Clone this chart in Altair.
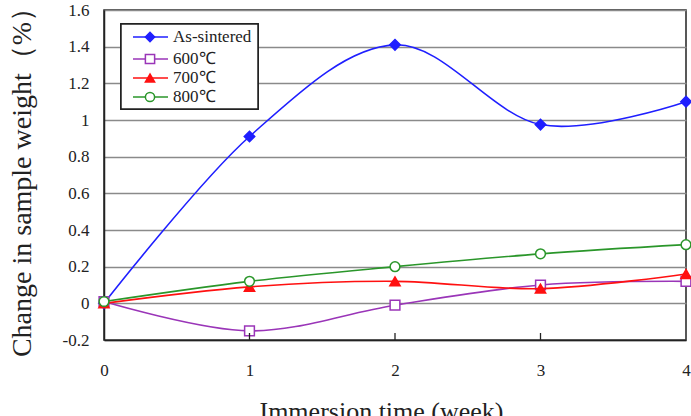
import altair as alt
import pandas as pd

# Immersion time (weeks) and weight change (%) for each sample condition
weeks = [0, 1, 2, 3, 4]
series_names = ["As-sintered", "600℃", "700℃", "800℃"]
as_sintered = [0.00, 0.91, 1.41, 0.975, 1.10]
t600 = [0.01, -0.15, -0.01, 0.10, 0.12]
t700 = [0.00, 0.09, 0.12, 0.08, 0.16]
t800 = [0.01, 0.12, 0.20, 0.27, 0.32]
y_ticks = [-0.2, 0, 0.2, 0.4, 0.6, 0.8, 1.0, 1.2, 1.4, 1.6]
x_ticks = [0, 1, 2, 3, 4]
inner_ticks = [1, 2, 3]

values = [as_sintered, t600, t700, t800]
colors = ["#1f1fff", "#9a35b8", "#ff1010", "#2a962a"]
shapes = ["diamond", "square", "triangle-up", "circle"]
filled = [True, False, True, False]
sizes = [110, 95, 105, 95]

FONT = "Liberation Serif"

rows = []
for name, vals in zip(series_names, values):
    for w, v in zip(weeks, vals):
        rows.append({"series": name, "week": w, "change": v})
df = pd.DataFrame(rows)

x_enc = alt.X(
    "week:Q",
    scale=alt.Scale(domain=[0, 4], nice=False),
    axis=alt.Axis(
        values=x_ticks, format="d", title="Immersion time (week)",
        grid=False, ticks=False, labelPadding=22, labelFontSize=17,
        labelOverlap=False, labelFlush=False,
        titleFontSize=26, titleFontWeight="normal", titleX=277, titleY=79,
        titleAlign="center", titleBaseline="alphabetic",
        domainColor="#222", domainWidth=1.5,
    ),
)
y_enc = alt.Y(
    "change:Q",
    scale=alt.Scale(domain=[-0.2, 1.6], nice=False, zero=False),
    axis=alt.Axis(
        values=y_ticks, title="Change in sample weight（%）",
        labelExpr="(datum.value < 0 ? '-' : '') + format(abs(datum.value), '.1~f')",
        grid=True, gridColor="#8a8a8a", gridWidth=1.6, ticks=False,
        labelPadding=15, labelFontSize=17, labelOverlap=False, labelFlush=False,
        titleFontSize=28, titleFontWeight="normal", titleAngle=270,
        titleX=-82, titleY=165, titleAlign="center", titleBaseline="middle",
        domainColor="#222", domainWidth=1.5,
    ),
)

layers = []

for name, col, shp, fil, sz in zip(series_names, colors, shapes, filled, sizes):
    sub = alt.Chart(df).transform_filter(alt.datum.series == name)
    layers.append(
        sub.mark_line(color=col, strokeWidth=1.6, interpolate="cardinal").encode(
            x=x_enc, y=y_enc
        )
    )
    layers.append(
        sub.mark_point(
            shape=shp, size=sz, filled=True, opacity=1,
            fill=col if fil else "white", stroke=col, strokeWidth=1.5,
        ).encode(x=x_enc, y=y_enc)
    )

# short tick marks pointing into the plot along the bottom axis
tick_df = pd.DataFrame({"week": inner_ticks})
ticks_layer = alt.Chart(tick_df).mark_rule(color="#222", strokeWidth=1.3).encode(
    x=x_enc, y=alt.value(330), y2=alt.value(323)
)

# legend box with line-and-marker samples
legend_df = pd.DataFrame({"series": series_names})
legend_layers = [
    alt.Chart(legend_df).mark_rect(
        fill="white", stroke="#222", strokeWidth=1.5
    ).encode(x=alt.value(17), x2=alt.value(154), y=alt.value(14), y2=alt.value(99))
]
legend_rows = [27, 49, 68, 87]
for name, col, shp, fil, ly in zip(series_names, colors, shapes, filled, legend_rows):
    entry = alt.Chart(legend_df).transform_filter(alt.datum.series == name)
    legend_layers.append(
        entry.mark_rule(color=col, strokeWidth=1.6).encode(
            x=alt.value(29), x2=alt.value(64), y=alt.value(ly)
        )
    )
    legend_layers.append(
        entry.mark_point(
            shape=shp, size=85, filled=True, opacity=1,
            fill=col if fil else "white", stroke=col, strokeWidth=1.5,
        ).encode(x=alt.value(46), y=alt.value(ly))
    )
    legend_layers.append(
        entry.mark_text(
            align="left", baseline="middle", font=FONT, fontSize=17, color="#222"
        ).encode(x=alt.value(69), y=alt.value(ly), text="series:N")
    )

chart = (
    alt.layer(*layers, ticks_layer, *legend_layers)
    .properties(
        width=582, height=330,
        autosize=alt.AutoSizeParams(type="none"),
        padding={"left": 104, "top": 10, "right": 5, "bottom": 76},
        background="white",
    )
    .configure_view(stroke="#222", strokeWidth=1.5)
    .configure_axis(labelFont=FONT, titleFont=FONT, labelColor="#222", titleColor="#222")
    .configure_text(font=FONT)
)

chart.save("out.html", embed_options={"renderer": "svg", "actions": False})
